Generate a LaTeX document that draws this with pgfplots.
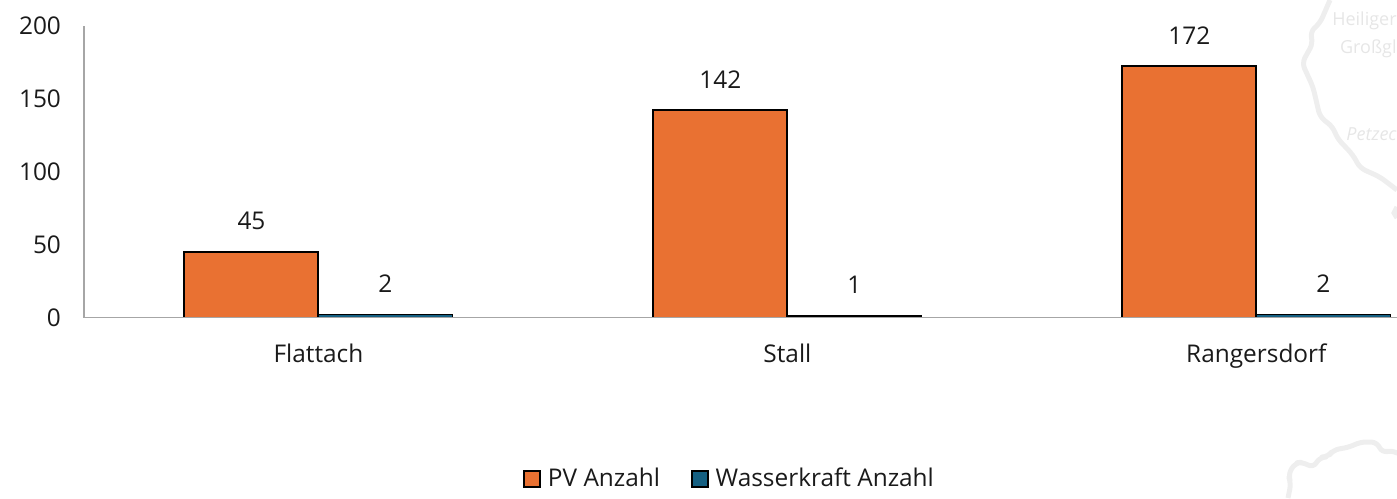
\documentclass[border=0pt]{standalone}
\usepackage{pgfplots}
\pgfplotsset{compat=1.18}
\usepackage{fontspec}
\setmainfont{Open Sans}
\definecolor{pvor}{HTML}{E97132}
\definecolor{wkbl}{HTML}{156082}
\definecolor{axg}{HTML}{A6A6A6}
\definecolor{mapg}{HTML}{EEEEEE}
\definecolor{mapt}{HTML}{E6E6E6}
\definecolor{txt}{HTML}{1A1A1A}
\begin{document}
\begin{tikzpicture}
\path[use as bounding box] (0,0) rectangle (698.5pt,-249pt);
\begin{scope}[x=0.5pt,y=-0.5pt]
\clip (0,0) rectangle (1397,498);
\draw[mapg,line width=2.5pt,line join=round,rounded corners=3pt]
 (1330,0)--(1320,23)--(1310,32)--(1313,43)--(1302,63)--(1313,87)--(1320,117)--(1333,127)--(1337,138)--(1353,155)--(1360,168)--(1380,177)--(1397,190);
\draw[mapg,line width=2.5pt,line join=round,rounded corners=3pt]
 (1288,498)--(1291,483)--(1288,475)--(1295,463)--(1303,462)--(1313,468)--(1320,457)--(1328,457)--(1333,450)--(1350,447)--(1360,442)--(1377,442)--(1382,453)--(1392,450)--(1397,453);
\draw[mapg,line width=2.5pt] (1397,207)--(1394,213)--(1397,218);
\node[text=mapt,font=\fontsize{9pt}{12pt}\selectfont,anchor=east,inner sep=0pt] at (1397,21) {Heiliger};
\node[text=mapt,font=\fontsize{9pt}{12pt}\selectfont,anchor=east,inner sep=0pt] at (1397,49) {Großgl};
\node[text=mapt,font=\fontsize{9pt}{12pt}\selectfont\itshape,anchor=east,inner sep=0pt] at (1397,134) {Petzec};
\end{scope}
\begin{axis}[
  at={(42pt,-158.75pt)},anchor=south west,
  scale only axis,width=656.5pt,height=146pt,
  xmin=-0.5,xmax=2.3,ymin=0,ymax=200,
  axis y line*=left,axis x line*=bottom,
  axis on top,
  axis line style={axg,line width=0.8pt,-},
  xtick={0,1,2},xticklabels={Flattach,Stall,Rangersdorf},
  ytick={0,50,100,150,200},
  major tick length=0pt,
  tick style={draw=none},
  xticklabel style={yshift=-9.5pt,text=txt},
  yticklabel style={xshift=-8pt,text=txt},
  /pgf/number format/assume math mode=true,
  font=\fontsize{12.2pt}{14pt}\selectfont,
  ybar,bar width=67pt,
  nodes near coords,
  every node near coord/.style={anchor=center,yshift=15.5pt,text=txt,font=\fontsize{12.2pt}{14pt}\selectfont},
  legend style={at={(0.4925,-0.553)},anchor=center,draw=none,fill=none,legend columns=2,
    font=\fontsize{12.2pt}{14pt}\selectfont,text=txt,
    /tikz/every odd column/.style={column sep=1.5pt},
    /tikz/every even column/.style={column sep=13.5pt},inner sep=0pt},
  legend cell align=left,
  legend image code/.code={\draw[#1,line width=1pt] (0pt,-3.9pt) rectangle (7.8pt,3.9pt);},
]
\addplot[draw=black,fill=pvor,line width=1pt,bar shift=-33.5pt,
  every node near coord/.append style={xshift=-33.5pt}] coordinates {(0,45) (1,142) (2,172)};
\addlegendentry{PV Anzahl}
\addplot[draw=black,fill=wkbl,line width=0.8pt,bar shift=33.5pt,
  every node near coord/.append style={xshift=33.5pt}] coordinates {(0,2) (1,1) (2,2)};
\addlegendentry{Wasserkraft Anzahl}
\end{axis}
\end{tikzpicture}
\end{document}
